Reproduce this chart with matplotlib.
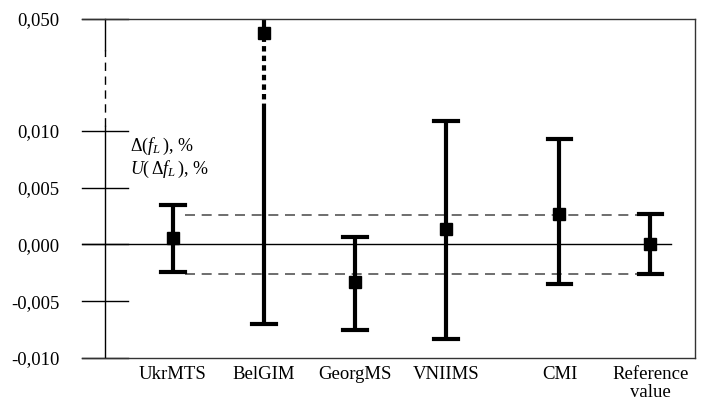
import numpy as np
import matplotlib
matplotlib.use("Agg")
import matplotlib.pyplot as plt

plt.rcParams['font.family'] = ['Liberation Serif', 'DejaVu Serif']
plt.rcParams['mathtext.fontset'] = 'custom'
plt.rcParams['mathtext.rm'] = 'Liberation Serif'
plt.rcParams['mathtext.it'] = 'Liberation Serif:italic'

# ---- data ----
labs = ["UkrMTS", "BelGIM", "GeorgMS", "VNIIMS", "CMI", "Reference\nvalue"]
xpos = [1, 2, 3, 4, 5.25, 6.25]
vals = [0.00053, 0.044, -0.00335, 0.0014, 0.00265, 0.0]
upper = [0.0035, 0.050, 0.00062, 0.01085, 0.00926, 0.0027]
lower = [-0.0024, -0.00705, -0.0075, -0.0083, -0.0035, -0.0026]
ref_U = 0.0026
ytick_vals = [-0.010, -0.005, 0.000, 0.005, 0.010, 0.050]
ytick_labs = ["-0,010", "-0,005", "0,000", "0,005", "0,010", "0,050"]
belgim_break = 0.0119

# piecewise (broken) y scale: above 0.012 compressed
B = 0.012
K = 0.2065
def fwd(y):
    y = np.asarray(y, dtype=float)
    return np.where(y <= B, y, B + (y - B) * K)
def inv(t):
    t = np.asarray(t, dtype=float)
    return np.where(t <= B, t, B + (t - B) / K)

fig = plt.figure(figsize=(7.05, 4.01), dpi=100)
W, H = 705, 401
ax = fig.add_axes([82 / W, 1 - 358 / H, (695 - 82) / W, (358 - 19) / H])
ax.set_yscale('function', functions=(fwd, inv))
ax.set_ylim(-0.010, 0.050)
ax.set_xlim(0, 6.74)

for s in ['top', 'right', 'bottom']:
    ax.spines[s].set_color('#333333')
    ax.spines[s].set_linewidth(1.0)
ax.spines['left'].set_visible(False)

# y axis line (broken)
xa = 0.253
ax.plot([xa, xa], [0.0368, 0.050], color='black', lw=1, clip_on=False)
ax.plot([xa, xa], [0.0104, 0.0368], color='black', lw=1, ls=(0, (6, 4)))
ax.plot([xa, xa], [-0.010, 0.0104], color='black', lw=1)
for v in ytick_vals:
    ax.plot([0, 0.505], [v, v], color='black', lw=1, clip_on=False)

ax.set_yticks(ytick_vals)
ax.set_yticklabels(ytick_labs, fontsize=13.5)
ax.yaxis.set_minor_locator(matplotlib.ticker.NullLocator())
ax.tick_params(axis='y', length=0, pad=16)

ax.set_xticks(xpos)
ax.set_xticklabels(labs, fontsize=13.5, linespacing=1.05)
ax.tick_params(axis='x', length=0, pad=6)

# zero line and reference band
ax.plot([0, 6.48], [0, 0], color='black', lw=1)
ax.plot([1.13, 6.1], [ref_U, ref_U], color='#555555', lw=1.2, ls=(0, (6, 4)))
ax.plot([1.13, 6.1], [-ref_U, -ref_U], color='#555555', lw=1.2, ls=(0, (6, 4)))

lw = 3
cap = 0.13
for i, (x, v, up, lo) in enumerate(zip(xpos, vals, upper, lower)):
    if labs[i] == "BelGIM":
        ax.plot([x, x], [lo, belgim_break], color='black', lw=lw, solid_capstyle='butt')
        ax.plot([x, x], [belgim_break, v], color='black', lw=lw,
                ls=(0, (1.3, 1.0)), dash_capstyle='butt')
        ax.plot([x, x], [v, up], color='black', lw=lw, solid_capstyle='butt')
        ax.plot([x - cap, x + cap], [lo, lo], color='black', lw=lw)
    else:
        ax.plot([x, x], [lo, up], color='black', lw=lw, solid_capstyle='butt')
        ax.plot([x - cap, x + cap], [lo, lo], color='black', lw=lw)
        ax.plot([x - cap, x + cap], [up, up], color='black', lw=lw)
    ax.plot([x], [v], marker='s', color='black', markersize=9, ls='none', zorder=5)

ax.text(0.527, 0.0086, r"$\Delta(f_L\,)$, %", fontsize=13, va='center', ha='left')
ax.text(0.527, 0.0066, r"$U(\,\Delta f_L\,)$, %", fontsize=13, va='center', ha='left')

fig.savefig("out.png", dpi=100)
